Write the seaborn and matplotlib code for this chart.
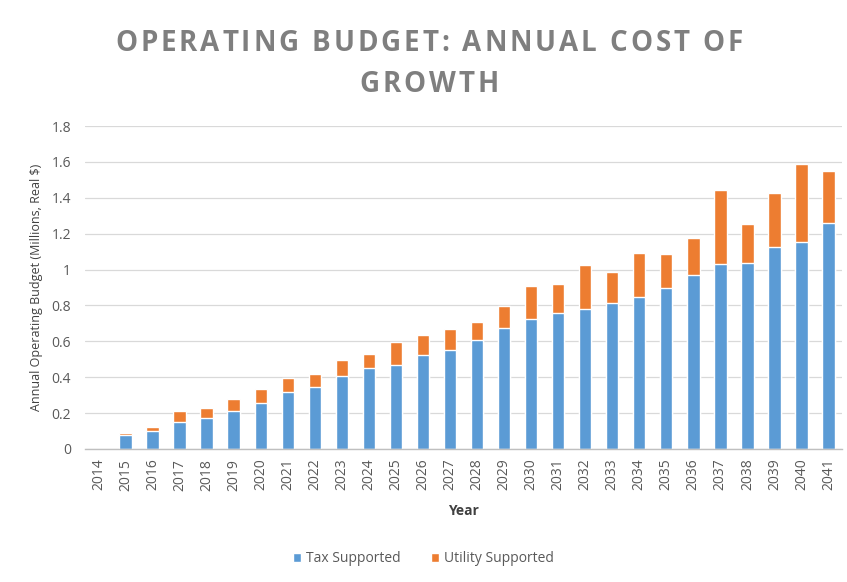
import matplotlib
matplotlib.use("Agg")
import matplotlib.pyplot as plt
from matplotlib.font_manager import FontProperties
import seaborn as sns
import pandas as pd

years = [str(y) for y in range(2014, 2042)]
tax_supported = [0.0, 0.08, 0.10, 0.152, 0.171, 0.21, 0.255, 0.316, 0.347, 0.409,
                 0.453, 0.468, 0.524, 0.552, 0.608, 0.673, 0.723, 0.756, 0.779, 0.812,
                 0.849, 0.896, 0.97, 1.031, 1.035, 1.128, 1.156, 1.261]
utility_supported = [0.0, 0.011, 0.02, 0.058, 0.056, 0.07, 0.078, 0.081, 0.071, 0.087,
                     0.077, 0.13, 0.111, 0.115, 0.102, 0.124, 0.186, 0.164, 0.245, 0.175,
                     0.245, 0.191, 0.204, 0.413, 0.219, 0.297, 0.431, 0.289]
y_ticks = [0, 0.2, 0.4, 0.6, 0.8, 1, 1.2, 1.4, 1.6, 1.8]
y_tick_labels = ["0", "0.2", "0.4", "0.6", "0.8", "1", "1.2", "1.4", "1.6", "1.8"]
title_lines = ["OPERATING BUDGET: ANNUAL COST OF", "GROWTH"]

TAX_COLOR = "#5B9BD5"
UTIL_COLOR = "#ED7D31"
TEXT_GRAY = "#595959"
TITLE_GRAY = "#7F7F7F"

sns.set_theme(style="white")
plt.rcParams["font.family"] = ["Open Sans", "DejaVu Sans"]

df = pd.DataFrame({"Year": years, "Tax": tax_supported, "Utility": utility_supported})
df["Total"] = df["Tax"] + df["Utility"]

W, H = 847, 582
fig = plt.figure(figsize=(W / 100, H / 100), dpi=100)
ax = fig.add_axes([85 / W, 1 - 449 / H, (842 - 85) / W, (449 - 126) / H])

# stacked bars: full height in orange, tax share drawn over it in blue
sns.barplot(data=df, x="Year", y="Total", color=UTIL_COLOR, width=0.46,
            saturation=1, ax=ax, label="Utility Supported")
sns.barplot(data=df, x="Year", y="Tax", color=TAX_COLOR, width=0.46,
            saturation=1, ax=ax, label="Tax Supported")
if ax.get_legend() is not None:
    ax.get_legend().remove()

ax.set_ylim(0, 1.8)
ax.set_xlim(-0.5, 27.5)
ax.set_yticks(y_ticks)
ax.set_yticklabels(y_tick_labels)
ax.yaxis.grid(True, color="#D9D9D9", linewidth=0.9)
ax.set_axisbelow(True)
for s in ["top", "right", "left"]:
    ax.spines[s].set_visible(False)
ax.spines["bottom"].set_color("#BFBFBF")
ax.spines["bottom"].set_linewidth(1.0)
ax.tick_params(axis="x", rotation=90, labelsize=10, colors=TEXT_GRAY, length=0, pad=7)
ax.tick_params(axis="y", labelsize=10, colors=TEXT_GRAY, length=0, pad=10)

ax.set_xlabel("Year", fontsize=10, fontweight="bold", color="#404040", labelpad=10)
ax.set_ylabel("Annual Operating Budget (Millions, Real $)", fontsize=9,
              color="#404040", labelpad=6)

# letter-spaced title, laid out one glyph at a time
fig.canvas.draw()
renderer = fig.canvas.get_renderer()
tprop = FontProperties(family=["Open Sans", "DejaVu Sans"], weight="bold", size=20)


def text_width(s):
    w, _, _ = renderer.get_text_width_height_descent(s, tprop, ismath=False)
    return w


def spaced_title(line, baseline_px, tracking_px=2.9, center_px=429):
    base = text_width("HH")
    advances = [text_width("H" + ch + "H") - base for ch in line]
    total = sum(advances) + tracking_px * (len(line) - 1)
    x = center_px - total / 2
    for ch, adv in zip(line, advances):
        if ch != " ":
            fig.text(x / W, 1 - baseline_px / H, ch, ha="left", va="baseline",
                     fontproperties=tprop, color=TITLE_GRAY)
        x += adv + tracking_px


spaced_title(title_lines[0], 51)
spaced_title(title_lines[1], 92)

handles, labels = ax.get_legend_handles_labels()
order = [labels.index("Tax Supported"), labels.index("Utility Supported")]
leg = fig.legend([handles[i] for i in order], [labels[i] for i in order],
                 loc="center", bbox_to_anchor=(0.5, 1 - 559 / H), ncol=2,
                 frameon=False, fontsize=10, handlelength=0.55, handleheight=0.55,
                 columnspacing=2.2, handletextpad=0.35)
for t in leg.get_texts():
    t.set_color(TEXT_GRAY)

fig.savefig("out.png", dpi=100, facecolor="white")
